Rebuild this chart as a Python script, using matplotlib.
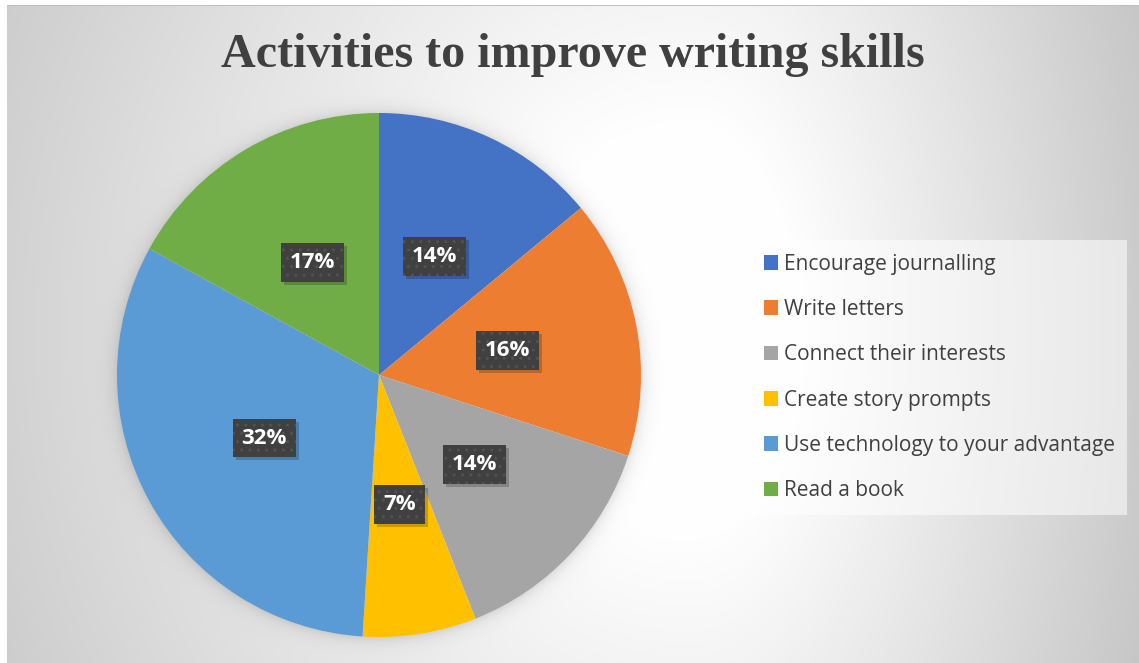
import numpy as np
import matplotlib
matplotlib.use("Agg")
import matplotlib.pyplot as plt
from matplotlib.patches import Rectangle
from matplotlib.transforms import IdentityTransform

activities = ["Encourage journalling", "Write letters", "Connect their interests",
              "Create story prompts", "Use technology to your advantage", "Read a book"]
shares = [14, 16, 14, 7, 32, 17]
colors = ["#4472C4", "#ED7D31", "#A5A5A5", "#FFC000", "#5B9BD5", "#70AD47"]

plt.rcParams["hatch.color"] = "#525252"
plt.rcParams["hatch.linewidth"] = 1.0

W, H = 1139, 663
fig = plt.figure(figsize=(W / 100, H / 100), dpi=100)

# background: soft radial grey gradient with a faint shadow round the pie
yy, xx = np.mgrid[0:H, 0:W].astype(float)
cx, cy = 690.0, 330.0
sx = np.where(xx < cx, 800.0, 470.0)
d = np.sqrt(((xx - cx) / sx) ** 2 + ((yy - cy) / 900.0) ** 2)
bg = 1 - 0.22 * np.clip((d - 0.22) / 0.8, 0, 1)
pcx, pcy, pr = 379.0, 375.0, 262.0
r = np.sqrt((xx - pcx) ** 2 + (yy - pcy) ** 2)
bg = bg - 0.10 * np.exp(-np.clip(r - pr, 0, None) / 7.0) * (r > pr - 2)
bg[:5, :] = 1.0
bg[5, 7:] = 0.75
bg[:, :7] = 1.0
bg_ax = fig.add_axes([0, 0, 1, 1], zorder=0)
bg_ax.imshow(np.dstack([bg] * 3), aspect="auto", interpolation="bilinear")
bg_ax.axis("off")

ax = fig.add_axes([(pcx - pr) / W, (H - pcy - pr) / H, 2 * pr / W, 2 * pr / H], zorder=1)
wedges, _, pcts = ax.pie(shares, colors=colors, startangle=90, counterclock=False,
                         autopct=lambda p: f"{p:.0f}%", pctdistance=0.5,
                         wedgeprops=dict(linewidth=0))
ax.set_xlim(-1, 1)
ax.set_ylim(-1, 1)
ax.set_aspect("equal")

for t in pcts:
    t.set_color("white")
    t.set_fontsize(16)
    t.set_fontweight("bold")
    t.set_fontfamily("Open Sans")
    t.set_bbox(dict(boxstyle="square,pad=0.4", fc="#404040", ec="#525252", lw=0, hatch=".."))

fig.text(573 / W, 1 - 55 / H, "Activities to improve writing skills",
         fontsize=34.6, fontweight="bold", fontfamily="Liberation Serif",
         color="#404040", ha="center", va="center")

leg = fig.legend(wedges, activities, loc="upper left",
                 bbox_to_anchor=(750 / W, (H - 512) / H, 377 / W, 272 / H), mode="expand",
                 frameon=True, fancybox=False, prop={"family": "Open Sans", "size": 15},
                 handlelength=0.7, handleheight=0.7, handletextpad=0.3,
                 labelspacing=1.17, borderpad=0.65, borderaxespad=0)
leg.get_frame().set_facecolor("white")
leg.get_frame().set_alpha(0.55)
leg.get_frame().set_linewidth(0)
for txt in leg.get_texts():
    txt.set_color("#404040")

# drop shadow under each value box, offset a few pixels down-right
fig.canvas.draw()
for t in pcts:
    bb = t.get_bbox_patch().get_window_extent()
    ax.add_patch(Rectangle((bb.x0 + 3, bb.y0 - 3), bb.width, bb.height,
                           transform=IdentityTransform(), fc="black", alpha=0.2,
                           lw=0, clip_on=False, zorder=t.get_zorder() - 0.5))

fig.savefig("out.png", dpi=100)
